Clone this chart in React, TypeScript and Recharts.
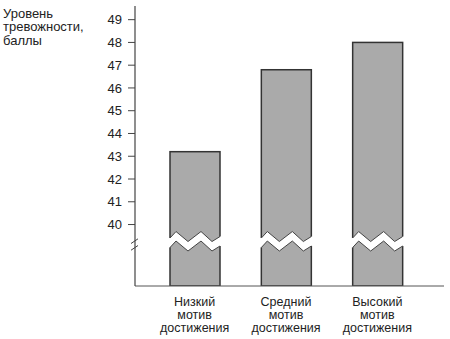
import { Bar, BarChart, ReferenceLine, XAxis, YAxis } from 'recharts';

const groups = ['Низкий', 'Средний', 'Высокий'];
const scores = [43.2, 46.8, 48];
const yTicks = [40, 41, 42, 43, 44, 45, 46, 47, 48, 49];
const subLines = ['мотив', 'достижения'];
const titleLines = ['Уровень', 'тревожности,', 'баллы'];

const DOMAIN_MIN = 37.3;
const DOMAIN_MAX = 49.6;
const BREAK_AT = 39.1;

const data = groups.map((name, i) => ({ name, score: scores[i] }));

const FONT = '"Liberation Sans", Arial, Helvetica, sans-serif';
const INK = '#222';

// zigzag gap cut through each bar below the 40 tick
const zigX = [0, 0.12, 0.36, 0.62, 0.84, 1];
const zigY = [-7, -13.5, -3.5, -13.5, -3.5, -8.5];
const GAP = 9.5;

function BrokenBar(props: any) {
  const { x, y, width, height, payload } = props;
  const bottom = y + height;
  const ppu = height / (payload.score - DOMAIN_MIN);
  const yb = bottom - (BREAK_AT - DOMAIN_MIN) * ppu;
  const upper = zigX.map((f, i) => [x + f * width, yb + zigY[i]]);
  const lower = upper.map(([px, py]) => [px, py + GAP]);
  const band = [
    [x - 2, upper[0][1]],
    ...upper,
    [x + width + 2, upper[upper.length - 1][1]],
    [x + width + 2, lower[lower.length - 1][1]],
    ...lower.slice().reverse(),
    [x - 2, lower[0][1]],
  ];
  const pts = (arr: number[][]) => arr.map((p) => p.join(',')).join(' ');
  return (
    <g>
      <rect x={x} y={y} width={width} height={height} fill="#aaaaaa" stroke="#333" strokeWidth={1.5} />
      <polygon points={pts(band)} fill="#fff" stroke="none" />
      <polyline points={pts(upper)} fill="none" stroke="#444" strokeWidth={1} />
      <polyline points={pts(lower)} fill="none" stroke="#444" strokeWidth={1} />
    </g>
  );
}

// "//" mark where the value axis is broken
function AxisBreak(props: any) {
  const { x1, y1 } = props;
  const ax = x1;
  const yb = y1;
  return (
    <g>
      <rect x={ax - 2} y={yb - 3} width={4} height={5.5} fill="#fff" />
      <line x1={ax - 4} y1={yb - 1.5} x2={ax + 3} y2={yb - 6.2} stroke="#444" strokeWidth={1} />
      <line x1={ax - 4} y1={yb + 5.2} x2={ax + 3} y2={yb + 0.5} stroke="#444" strokeWidth={1} />
    </g>
  );
}

function GroupTick(props: any) {
  const { x, y, payload } = props;
  const lines = [payload.value, ...subLines];
  return (
    <g>
      {lines.map((t: string, i: number) => (
        <text
          key={i}
          x={x}
          y={y + 19.5 + i * 13}
          textAnchor="middle"
          fontSize={12.5}
          fontFamily={FONT}
          fill={INK}
        >
          {t}
        </text>
      ))}
    </g>
  );
}

export default function App() {
  return (
    <div style={{ position: 'absolute', left: 0, top: 0, width: 450, height: 339, background: '#fff' }}>
      <div
        style={{
          position: 'absolute',
          left: 3,
          top: 6.7,
          fontFamily: FONT,
          fontSize: 13,
          lineHeight: '13.5px',
          color: INK,
        }}
      >
        {titleLines.map((t) => (
          <div key={t}>{t}</div>
        ))}
      </div>
      <BarChart width={450} height={339} data={data} margin={{ top: 6, right: 6, bottom: 0, left: 0 }}>
        <XAxis
          dataKey="name"
          height={53}
          tickLine={false}
          tickSize={0}
          tickMargin={0}
          padding={{ left: 14, right: 21 }}
          axisLine={{ stroke: '#555', strokeWidth: 1 }}
          tick={<GroupTick />}
          interval={0}
        />
        <YAxis
          width={135}
          domain={[DOMAIN_MIN, DOMAIN_MAX]}
          ticks={yTicks}
          allowDataOverflow
          tickSize={7}
          tickMargin={6}
          axisLine={{ stroke: '#444', strokeWidth: 1.2 }}
          tickLine={{ stroke: '#444', strokeWidth: 1 }}
          tick={{ fill: INK, fontSize: 13, fontFamily: FONT }}
        />
        <Bar dataKey="score" barSize={50} shape={<BrokenBar />} isAnimationActive={false} />
        <ReferenceLine y={BREAK_AT} stroke="none" shape={<AxisBreak />} />
      </BarChart>
    </div>
  );
}
